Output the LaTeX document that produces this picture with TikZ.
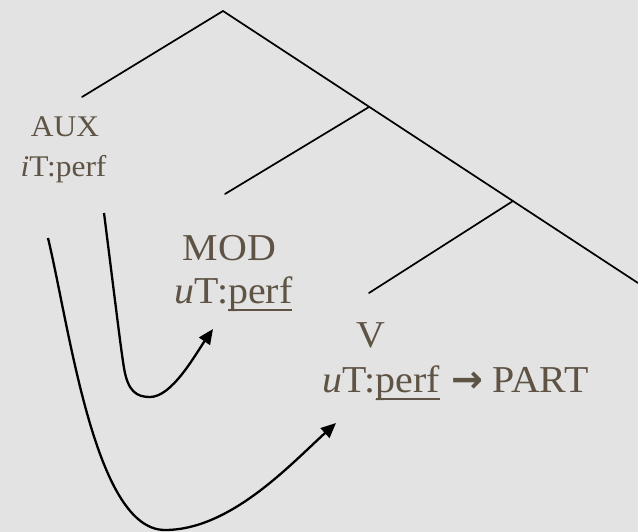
\documentclass[tikz,border=0pt]{standalone}
\usepackage{fontspec}
\setmainfont[FakeStretch=1.05]{Liberation Serif}
\newfontfamily\arrowfont{DejaVu Sans}
\usetikzlibrary{arrows.meta}

\definecolor{bg}{RGB}{227,227,227}
\definecolor{txt}{RGB}{94,83,68}

% underline that sits close to the baseline, crossing descenders
\newcommand\undr[1]{\setbox0\hbox{#1}\rlap{\rule[-8pt]{\wd0}{2pt}}\box0}

\tikzset{
  branch/.style={line width=1.7pt, line cap=round},
  move/.style={line width=2.3pt, -{Triangle[length=15pt,width=13pt]}},
  small/.style={text=txt, inner sep=0pt, font=\fontsize{30}{36}\selectfont},
  big/.style={text=txt, inner sep=0pt, font=\fontsize{38}{44}\selectfont},
}

\begin{document}
\begin{tikzpicture}[x=1pt,y=-1pt]
  \fill[bg] (0,0) rectangle (638,532);
  \useasboundingbox (0,0) rectangle (638,532);

  % tree skeleton
  \coordinate (top) at (223,11);
  \coordinate (lend) at (82,97);
  \coordinate (rend) at (638,283);
  \coordinate (j1) at (369,107);
  \coordinate (m1) at (225,194);
  \coordinate (j2) at (513,201);
  \coordinate (m2) at (369,293);
  \draw[branch] (lend) -- (top) -- (rend);
  \draw[branch] (j1) -- (m1);
  \draw[branch] (j2) -- (m2);

  % labels
  \node[small, anchor=base] (aux) at (65,137) {AUX};
  \node[small, anchor=base] (auxf) at (63.5,177) {\textit{i}T:perf};
  \node[big, anchor=base] (mod) at (229.5,261) {MOD};
  \node[big, anchor=base] (modf) at (233.5,303) {\textit{u}T:\undr{perf}};
  \node[big, anchor=base] (v) at (370.5,347) {V};
  \node[big, anchor=base west] (vf) at (322,392)
    {\textit{u}T:\undr{perf}\hspace{0.3em}{\arrowfont\bfseries →}\hspace{0.25em}PART};

  % agreement arrows
  \coordinate (s1) at (104,213);
  \coordinate (k1) at (124,368);
  \coordinate (b1) at (150,397);
  \coordinate (t1) at (213,329);
  \coordinate (s2) at (48,238);
  \coordinate (b2) at (165,530);
  \coordinate (t2) at (336,423);
  \draw[move] (s1) .. controls (115,300) and (121,350) .. (k1)
              .. controls (128,392) and (137,397) .. (b1)
              .. controls (172,397) and (195,355) .. (t1);
  \draw[move] (s2) .. controls (70,330) and (95,530) .. (b2)
              .. controls (230,530) and (290,465) .. (t2);
\end{tikzpicture}
\end{document}
